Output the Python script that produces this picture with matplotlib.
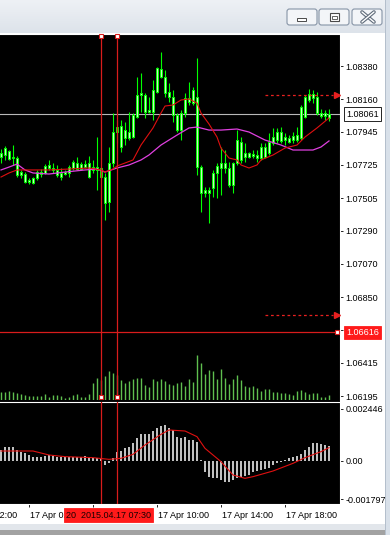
import matplotlib
matplotlib.use("Agg")
import numpy as np
import matplotlib.pyplot as plt
from matplotlib.patches import Rectangle, FancyBboxPatch
from matplotlib.colors import LinearSegmentedColormap
from matplotlib.transforms import blended_transform_factory as blend

plt.rcParams["font.family"] = ["Liberation Sans", "DejaVu Sans"]

W, H = 390, 535  # window size in px

# ------------------------------------------------------------------
# EURUSD M15, 17 Apr 2015 (bar 0 = 00:15, bar 39 = 10:00)
# ------------------------------------------------------------------
opens = [1.07778, 1.07791, 1.07817, 1.07771, 1.07771, 1.07659, 1.07665, 1.07612, 1.07606, 1.07639,
         1.07665, 1.07672, 1.07705, 1.07705, 1.07692, 1.07672, 1.07678, 1.07672, 1.07705, 1.07738,
         1.07698, 1.07731, 1.07738, 1.07692, 1.07692, 1.07705, 1.07645, 1.07480, 1.07738, 1.07943,
         1.07983, 1.07903, 1.07903, 1.07910, 1.08042, 1.08188, 1.08188, 1.08076, 1.08076, 1.08208,
         1.08307, 1.08307, 1.08208, 1.08175, 1.08056, 1.07956, 1.08069, 1.08142, 1.08135, 1.08175,
         1.07711, 1.07539, 1.07559, 1.07572, 1.07672, 1.07705, 1.07705, 1.07705, 1.07592, 1.07738,
         1.07877, 1.07778, 1.07778, 1.07784, 1.07771, 1.07771, 1.07778, 1.07804, 1.07870, 1.07890,
         1.07943, 1.07890, 1.07877, 1.07890, 1.07890, 1.07903, 1.08042, 1.08155, 1.08195, 1.08175,
         1.08069, 1.08049, 1.08036]
highs = [1.07831, 1.07850, 1.07824, 1.07857, 1.07784, 1.07692, 1.07678, 1.07639, 1.07645, 1.07692,
         1.07698, 1.07731, 1.07758, 1.07738, 1.07725, 1.07705, 1.07692, 1.07725, 1.07758, 1.07778,
         1.07745, 1.07758, 1.07784, 1.07758, 1.07910, 1.07711, 1.07672, 1.07844, 1.08069, 1.08023,
         1.08023, 1.08009, 1.08076, 1.08069, 1.08307, 1.08334, 1.08201, 1.08175, 1.08287, 1.08373,
         1.08473, 1.08354, 1.08268, 1.08221, 1.08069, 1.08089, 1.08201, 1.08274, 1.08241, 1.08433,
         1.07725, 1.07579, 1.07579, 1.07692, 1.07738, 1.07844, 1.07824, 1.07745, 1.07745, 1.07956,
         1.07910, 1.07870, 1.07811, 1.07824, 1.07824, 1.07870, 1.07870, 1.07937, 1.07970, 1.07970,
         1.07976, 1.07937, 1.07923, 1.07943, 1.07976, 1.08122, 1.08188, 1.08228, 1.08221, 1.08208,
         1.08095, 1.08089, 1.08095]
lows = [1.07738, 1.07758, 1.07758, 1.07725, 1.07645, 1.07639, 1.07606, 1.07599, 1.07599, 1.07625,
        1.07645, 1.07665, 1.07692, 1.07672, 1.07645, 1.07625, 1.07659, 1.07645, 1.07692, 1.07692,
        1.07692, 1.07705, 1.07639, 1.07672, 1.07559, 1.07639, 1.07361, 1.07414, 1.07711, 1.07870,
        1.07811, 1.07857, 1.07890, 1.07903, 1.08036, 1.08076, 1.08036, 1.08069, 1.08023, 1.08201,
        1.08301, 1.08175, 1.08142, 1.08009, 1.07943, 1.07890, 1.08042, 1.08122, 1.08122, 1.07659,
        1.07414, 1.07513, 1.07341, 1.07513, 1.07506, 1.07526, 1.07672, 1.07579, 1.07539, 1.07725,
        1.07738, 1.07745, 1.07771, 1.07771, 1.07745, 1.07758, 1.07771, 1.07791, 1.07857, 1.07870,
        1.07870, 1.07857, 1.07870, 1.07870, 1.07877, 1.07890, 1.08036, 1.08142, 1.08135, 1.08056,
        1.08036, 1.08023, 1.08016]
closes = [1.07804, 1.07837, 1.07764, 1.07778, 1.07659, 1.07678, 1.07612, 1.07625, 1.07639, 1.07678,
          1.07678, 1.07718, 1.07725, 1.07692, 1.07659, 1.07645, 1.07665, 1.07711, 1.07745, 1.07698,
          1.07731, 1.07711, 1.07645, 1.07711, 1.07711, 1.07645, 1.07473, 1.07738, 1.07943, 1.07976,
          1.07844, 1.07956, 1.07943, 1.08056, 1.08188, 1.08201, 1.08076, 1.08089, 1.08221, 1.08367,
          1.08360, 1.08201, 1.08175, 1.08056, 1.07956, 1.08069, 1.08168, 1.08168, 1.08221, 1.07711,
          1.07539, 1.07559, 1.07539, 1.07672, 1.07718, 1.07738, 1.07738, 1.07592, 1.07738, 1.07890,
          1.07758, 1.07804, 1.07804, 1.07798, 1.07791, 1.07844, 1.07844, 1.07877, 1.07910, 1.07943,
          1.07884, 1.07910, 1.07903, 1.07917, 1.07923, 1.08109, 1.08175, 1.08195, 1.08168, 1.08069,
          1.08049, 1.08069, 1.08062]
volumes = [200, 200, 225, 200, 175, 150, 125, 100, 100, 100,
           100, 150, 75, 125, 125, 100, 50, 75, 125, 150,
           75, 75, 150, 425, 550, 500, 600, 725, 675, 625,
           500, 425, 475, 525, 550, 550, 375, 325, 525, 475,
           525, 475, 400, 375, 425, 450, 350, 525, 450, 1125,
           925, 650, 750, 725, 525, 775, 550, 400, 525, 625,
           500, 350, 325, 350, 300, 225, 275, 275, 200, 200,
           175, 175, 150, 125, 225, 250, 200, 150, 175, 175,
           75, 75, 125]

# moving averages
ma_fast_bars = [0, 2, 4, 8, 12, 17, 22, 25, 26, 28, 29, 31, 33, 35, 38, 40, 41, 43, 45, 47,
                49, 50, 52, 54, 55, 57, 59, 60, 62, 64, 65, 68, 71, 74, 76, 79, 82]
ma_fast = [1.07645, 1.07672, 1.07692, 1.07692, 1.07692, 1.07698, 1.07705, 1.07692, 1.07678, 1.07698,
           1.07718, 1.07738, 1.07758, 1.07857, 1.07970, 1.08069, 1.08115, 1.08122, 1.08155, 1.08162,
           1.08135, 1.08069, 1.07996, 1.07910, 1.07837, 1.07771, 1.07758, 1.07725, 1.07705, 1.07725,
           1.07758, 1.07791, 1.07837, 1.07857, 1.07910, 1.07970, 1.08036]
ma_slow_bars = [0, 2, 4, 6, 8, 12, 16, 21, 24, 26, 29, 32, 35, 37, 40, 44, 47, 49, 52, 55,
                59, 62, 66, 70, 73, 78, 80, 82]
ma_slow = [1.07692, 1.07711, 1.07731, 1.07692, 1.07672, 1.07665, 1.07678, 1.07692, 1.07698, 1.07678,
           1.07705, 1.07725, 1.07758, 1.07791, 1.07857, 1.07923, 1.07970, 1.07976, 1.07956, 1.07956,
           1.07963, 1.07943, 1.07890, 1.07857, 1.07824, 1.07824, 1.07844, 1.07884]

# MACD sub-window
macd_hist = [0.000517, 0.000674, 0.000674, 0.000642, 0.000517, 0.000407, 0.000360, 0.000282, 0.000204, 0.000204,
             0.000204, 0.000235, 0.000266, 0.000235, 0.000204, 0.000204, 0.000172, 0.000172, 0.000172, 0.000172,
             0.000188, 0.000235, 0.000188, 0.000157, 0.000125, 0.000078, -0.000188, -0.000110, 0.000125, 0.000407,
             0.000470, 0.000595, 0.000674, 0.000830, 0.001097, 0.001254, 0.001254, 0.001254, 0.001410, 0.001567,
             0.001661, 0.001692, 0.001536, 0.001457, 0.001144, 0.001097, 0.001144, 0.000987, 0.000987, 0.000909,
             0.000047, -0.000501, -0.000736, -0.000815, -0.000815, -0.000893, -0.000971, -0.001003, -0.000893, -0.000783,
             -0.000736, -0.000689, -0.000658, -0.000533, -0.000470, -0.000423, -0.000376, -0.000313, -0.000188, -0.000110,
             -0.000031, 0.000047, 0.000125, 0.000172, 0.000251, 0.000313, 0.000517, 0.000674, 0.000830, 0.000830,
             0.000783, 0.000752, 0.000705]
signal_bars = [0, 8, 12, 16, 23, 27, 30, 33, 36, 40, 42, 46, 49, 51, 55, 58, 61, 63, 68, 73, 76, 80, 82]
signal = [0.000470, 0.000470, 0.000282, 0.000204, 0.000157, 0.000078, 0.000125, 0.000313, 0.000752, 0.001254,
          0.001457, 0.001410, 0.001144, 0.000595, -0.000031, -0.000658, -0.000815, -0.000736, -0.000470, -0.000110,
          0.000157, 0.000439, 0.000627]

price_ticks = [1.08380, 1.08160, 1.07945, 1.07725, 1.07505, 1.07290, 1.07070, 1.06850, 1.06630, 1.06415, 1.06195]
macd_ticks = [0.002446, 0.0, -0.001797]
macd_labels = ["0.002446", "0.00", "-0.001797"]
time_ticks = [-9, 7, 23, 39, 55, 71]
time_labels = ["16 Apr 22:00", "17 Apr 02:00", "17 Apr 06:00", "17 Apr 10:00", "17 Apr 14:00", "17 Apr 18:00"]

bid = 1.08061
cross_price = 1.06616
cross_bar = 29
vline_bar = 25
alert_levels = [1.08185, 1.06730]
cross_time = "20  2015.04.17 07:30"

RED = "#d81c1c"
LIME = "#00ff00"


def rect(x0, y0, x1, y1):
    return [x0 / W, 1 - y1 / H, (x1 - x0) / W, (y1 - y0) / H]


fig = plt.figure(figsize=(W / 100, H / 100), dpi=100, facecolor="white")

# ---- window chrome ------------------------------------------------
bg = fig.add_axes([0, 0, 1, 1], zorder=-5)
bg.set_xlim(0, W)
bg.set_ylim(H, 0)
bg.axis("off")
grad = LinearSegmentedColormap.from_list("title", ["#eef1f5", "#dde3ea"])
bg.imshow(np.linspace(0, 1, 40)[:, None], extent=[0, W, 33, 0], cmap=grad, aspect="auto")
bg.set_xlim(0, W)
bg.set_ylim(H, 0)
bg.add_patch(Rectangle((0, 33), W, 491, fc="white", ec="none"))
bg.add_patch(Rectangle((0, 34), 340, 470, fc="black", ec="none"))
bg.add_patch(Rectangle((0, 524), W, 6, fc="#e2e6eb", ec="none"))
bg.add_patch(Rectangle((0, 530), W, 5, fc="#a2a2a2", ec="none"))
for bx in (287, 319, 352):
    bg.add_patch(FancyBboxPatch((bx, 9), 30, 16, boxstyle="round,pad=0,rounding_size=2.5",
                                fc="#f3f5f8", ec="#8694a6", lw=0.8))
bg.add_patch(Rectangle((297, 17.5), 9, 3, fc="white", ec="#4a4a4a", lw=0.7))
bg.add_patch(Rectangle((330, 13), 9, 8, fc="white", ec="#4a4a4a", lw=0.8))
bg.add_patch(Rectangle((332, 15.5), 5, 3, fc="white", ec="#4a4a4a", lw=0.6))
for (x0, y0, x1, y1) in ((362, 12, 374, 22), (362, 22, 374, 12)):
    bg.plot([x0, x1], [y0, y1], color="#5f6b7a", lw=2.6, solid_capstyle="round")
    bg.plot([x0, x1], [y0, y1], color="white", lw=1.0, solid_capstyle="round")

xlim = (-0.25, 84.75)

# ---- volumes (own scale, bottom of main window) -------------------
axv = fig.add_axes(rect(0, 34, 340, 400), zorder=1, facecolor="none")
axv.axis("off")
axv.set_xlim(*xlim)
axv.set_ylim(0, 9150)
axv.vlines(range(len(volumes)), 0, volumes, color="#5fbf4f", lw=1.0)

# ---- main price window --------------------------------------------
ax = fig.add_axes(rect(0, 34, 340, 400), zorder=2, facecolor="none")
ax.set_xlim(*xlim)
ax.set_ylim(1.06169, 1.08592)

bars = np.arange(len(closes))
o = np.array(opens)
c = np.array(closes)
body_lo = np.minimum(o, c)
body_h = np.maximum(np.abs(c - o), 0.00002)
ax.vlines(bars, lows, highs, color=LIME, lw=0.8, zorder=3)
ax.bar(bars, body_h, bottom=body_lo, width=0.55, color="#c8f5c0",
       edgecolor=LIME, linewidth=0.7, zorder=4)

ax.plot(ma_slow_bars, ma_slow, color="#e040e0", lw=0.9, zorder=5)
ax.plot(ma_fast_bars, ma_fast, color="#e01010", lw=0.8, zorder=5)

ax.axhline(bid, color="#b8b8b8", lw=0.8, zorder=2)
ax.axhline(cross_price, color=RED, lw=0.9, zorder=6)
for b in (vline_bar, cross_bar):
    ax.axvline(b, color=RED, lw=0.9, zorder=6)

for lvl in alert_levels:
    ax.plot([66, 83], [lvl, lvl], color="#e82020", lw=0.9, ls=(0, (2.2, 2.2)), zorder=6)
    ax.plot([83.9], [lvl], marker=">", ms=4, color="#e82020", zorder=6, clip_on=False)

tr_top = blend(ax.transData, ax.transAxes)
for yfrac in (0.994, 0.008):
    ax.plot([vline_bar, cross_bar], [yfrac, yfrac], "s", ms=3.3, mfc="white", mec=RED,
            mew=0.8, transform=tr_top, clip_on=False, zorder=8)
ax.plot([84], [cross_price], "s", ms=3.3, mfc="white", mec=RED, mew=0.8, clip_on=False, zorder=8)

for side in ("left", "bottom"):
    ax.spines[side].set_visible(False)
for side in ("top", "right"):
    ax.spines[side].set_color("white")
    ax.spines[side].set_linewidth(0.8)
ax.set_xticks([])
ax.yaxis.tick_right()
ax.set_yticks(price_ticks)
ax.set_yticklabels([f"{v:.5f}" for v in price_ticks])
ax.tick_params(axis="y", length=2.2, width=0.6, color="black", labelsize=6.5, pad=1.6)

tr_price = blend(ax.transAxes, ax.transData)
ax.text(1.0176, bid, f"{bid:.5f}", transform=tr_price, ha="left", va="center", fontsize=6.5,
        color="black", clip_on=False, zorder=10,
        bbox=dict(boxstyle="square,pad=0.25", fc="white", ec="black", lw=0.6))
ax.text(1.0176, cross_price, f"{cross_price:.5f}", transform=tr_price, ha="left", va="center",
        fontsize=6.5, color="white", clip_on=False, zorder=10,
        bbox=dict(boxstyle="square,pad=0.25", fc="#ff1a1a", ec="#ff1a1a", lw=0.6))

# ---- MACD window ---------------------------------------------------
axm = fig.add_axes(rect(0, 402, 340, 504), zorder=2, facecolor="none")
axm.set_xlim(*xlim)
axm.set_ylim(-0.002021, 0.002773)
axm.bar(bars, macd_hist, width=0.7, color="#c0c0c0", zorder=2)
axm.plot(signal_bars, signal, color="#e01010", lw=0.8, zorder=3)
for b in (vline_bar, cross_bar):
    axm.axvline(b, color=RED, lw=0.9, zorder=6)

axm.spines["left"].set_visible(False)
for side in ("top", "right", "bottom"):
    axm.spines[side].set_color("white")
    axm.spines[side].set_linewidth(0.8)
axm.yaxis.tick_right()
axm.set_yticks(macd_ticks)
axm.set_yticklabels(macd_labels)
axm.tick_params(axis="y", length=2.2, width=0.6, color="black", labelsize=6.5, pad=1.6)
axm.set_xticks(time_ticks[1:])
axm.set_xticklabels([])
axm.tick_params(axis="x", length=2.2, width=0.6, color="black")

tr_time = blend(axm.transData, axm.transAxes)
for k, lab in zip(time_ticks, time_labels):
    axm.text(k + 0.3, -0.108, lab, transform=tr_time, ha="left", va="center",
             fontsize=6.5, color="black", clip_on=False, zorder=3)
axm.text(cross_bar - 2.1, -0.108, cross_time, transform=tr_time, ha="center", va="center",
         fontsize=6.5, color="#1a0000", clip_on=False, zorder=10,
         bbox=dict(boxstyle="square,pad=0.25", fc="#ff1a1a", ec="#ff1a1a", lw=0.6))

# right window frame
fig.add_artist(Rectangle((385 / W, 0), 5 / W, 1, transform=fig.transFigure,
                         fc="#d8e0e9", ec="none", zorder=20))
fig.add_artist(Rectangle((385 / W, 0), 0.8 / W, 1, transform=fig.transFigure,
                         fc="#b4bfcc", ec="none", zorder=21))

fig.savefig("out.png", dpi=100, facecolor=fig.get_facecolor())
